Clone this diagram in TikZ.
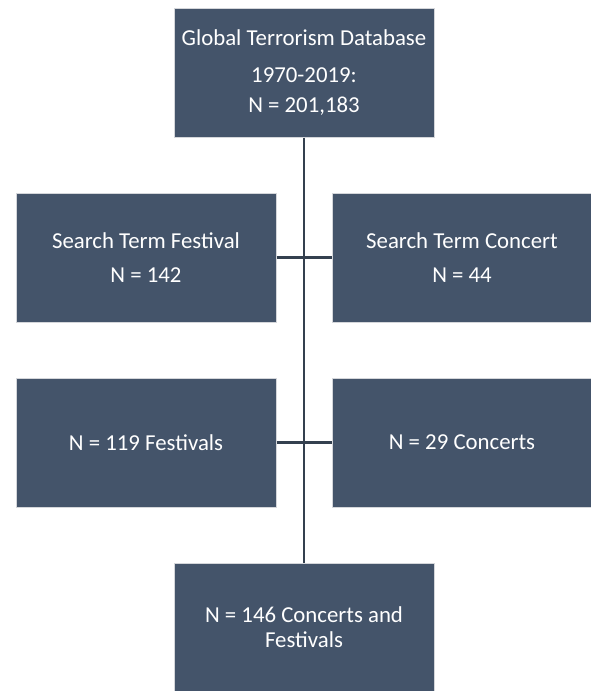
\documentclass[tikz,border=0pt]{standalone}
\usepackage{fontspec}
\setmainfont{Carlito}
\definecolor{boxfill}{HTML}{44546A}
\definecolor{boxedge}{HTML}{D4D6DA}
\definecolor{linkcol}{HTML}{34404F}
\begin{document}
\begin{tikzpicture}[x=1pt,y=1pt,
  flowbox/.style={rectangle, fill=boxfill, draw=boxedge, line width=1pt,
    minimum width=260pt, minimum height=129pt, inner sep=0pt,
    text=white, align=center, font=\fontsize{22.8}{25}\selectfont},
  link/.style={draw=linkcol, line width=2.2pt}]
\useasboundingbox (0,0) rectangle (591,-691);
\node[flowbox] (gtd) at (304,-72.5) {Global Terrorism Database\\[11.7pt]1970-2019:\\[5pt]N = 201,183};
\node[flowbox] (sf) at (146,-257.5) {Search Term Festival\\[9.4pt]N = 142};
\node[flowbox] (sc) at (462,-257.5) {Search Term Concert\\[9.4pt]N = 44};
\node[flowbox] (nf) at (146,-442.5) {N = 119 Festivals};
\node[flowbox] (nc) at (462,-442.5) {N = 29 Concerts};
\node[flowbox] (all) at (304,-627.5) {N = 146 Concerts and\\Festivals};
\draw[link] (gtd.south) -- (all.north);
\draw[link] (sf.east) -- (sc.west);
\draw[link] (nf.east) -- (nc.west);
\end{tikzpicture}
\end{document}
